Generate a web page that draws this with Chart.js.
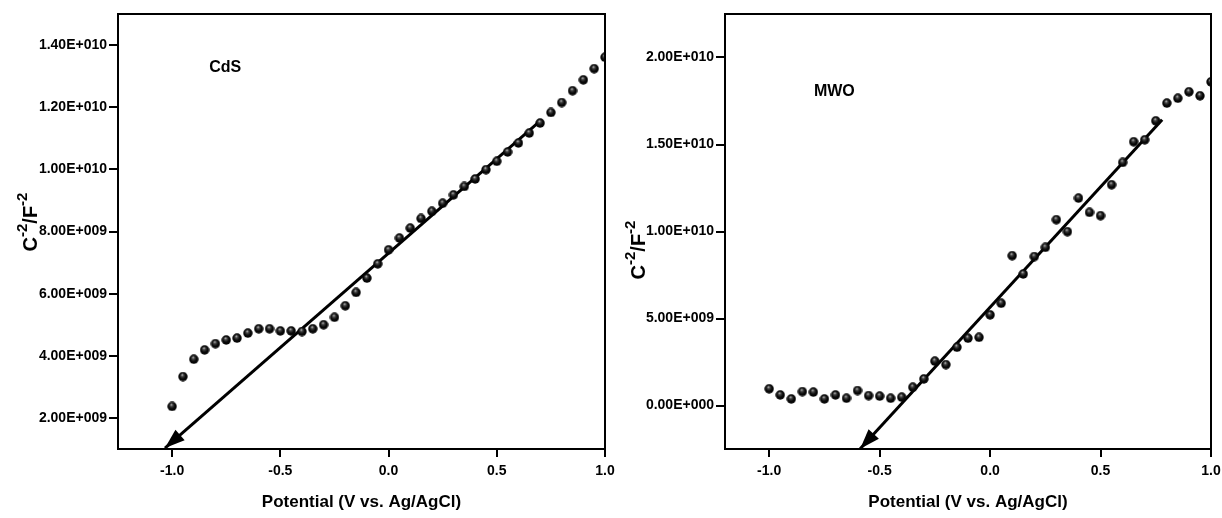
<!DOCTYPE html>
<html>
<head>
<meta charset="utf-8">
<script src="https://cdn.jsdelivr.net/npm/chart.js@4"></script>
<style>
  html, body { margin: 0; padding: 0; background: #fff; }
  #wrap { display: flex; width: 1222px; height: 518px; }
  canvas { display: block; }
</style>
</head>
<body>
<div id="wrap">
  <canvas id="cds-chart" width="616" height="518"></canvas>
  <canvas id="mwo-chart" width="606" height="518"></canvas>
</div>
<script>
// Mott-Schottky data (C^-2 / F^-2 vs potential)
const potential = [
  -1.00, -0.95, -0.90, -0.85, -0.80, -0.75, -0.70, -0.65, -0.60, -0.55,
  -0.50, -0.45, -0.40, -0.35, -0.30, -0.25, -0.20, -0.15, -0.10, -0.05,
   0.00,  0.05,  0.10,  0.15,  0.20,  0.25,  0.30,  0.35,  0.40,  0.45,
   0.50,  0.55,  0.60,  0.65,  0.70,  0.75,  0.80,  0.85,  0.90,  0.95, 1.00
];

const cdsValues = [
  2.37e9, 3.33e9, 3.89e9, 4.19e9, 4.39e9, 4.51e9, 4.57e9, 4.73e9, 4.87e9, 4.87e9,
  4.80e9, 4.80e9, 4.78e9, 4.87e9, 5.00e9, 5.24e9, 5.61e9, 6.04e9, 6.50e9, 6.96e9,
  7.41e9, 7.79e9, 8.11e9, 8.42e9, 8.65e9, 8.91e9, 9.18e9, 9.45e9, 9.69e9, 9.99e9,
  10.26e9, 10.56e9, 10.85e9, 11.17e9, 11.49e9, 11.83e9, 12.15e9, 12.53e9, 12.88e9, 13.24e9, 13.61e9
];

const mwoValues = [
  0.96e9, 0.61e9, 0.38e9, 0.80e9, 0.77e9, 0.38e9, 0.61e9, 0.42e9, 0.86e9, 0.57e9,
  0.54e9, 0.42e9, 0.48e9, 1.05e9, 1.53e9, 2.55e9, 2.35e9, 3.35e9, 3.87e9, 3.92e9,
  5.21e9, 5.88e9, 8.61e9, 7.56e9, 8.56e9, 9.09e9, 10.68e9, 9.99e9, 11.92e9, 11.10e9,
  10.91e9, 12.69e9, 13.97e9, 15.16e9, 15.27e9, 16.36e9, 17.38e9, 17.66e9, 18.03e9, 17.80e9, 18.60e9
];

// Linear fit lines (first point = arrow tip)
const cdsFitX = [-1.033, 0.689];
const cdsFitY = [1.03e9, 11.49e9];
const mwoFitX = [-0.588, 0.779];
const mwoFitY = [-2.49e9, 16.42e9];

// Axis ticks
const xTickValues = [-1.0, -0.5, 0.0, 0.5, 1.0];
const xTickLabels = ['-1.0', '-0.5', '0.0', '0.5', '1.0'];
const cdsYTickValues = [2e9, 4e9, 6e9, 8e9, 10e9, 12e9, 14e9];
const cdsYTickLabels = ['2.00E+009', '4.00E+009', '6.00E+009', '8.00E+009', '1.00E+010', '1.20E+010', '1.40E+010'];
const mwoYTickValues = [0, 5e9, 10e9, 15e9, 20e9];
const mwoYTickLabels = ['0.00E+000', '5.00E+009', '1.00E+010', '1.50E+010', '2.00E+010'];

const FONT = "'Liberation Sans', Arial, sans-serif";
const INK = '#000';

// Shaded black sphere used as point marker
function makeBall(d) {
  const c = document.createElement('canvas');
  c.width = d;
  c.height = d;
  const g = c.getContext('2d');
  const grad = g.createRadialGradient(d * 0.42, d * 0.3, 0, d / 2, d / 2, d / 2);
  grad.addColorStop(0, '#d0d0d0');
  grad.addColorStop(0.28, '#444');
  grad.addColorStop(0.6, '#0a0a0a');
  grad.addColorStop(1, '#000');
  g.fillStyle = grad;
  g.beginPath();
  g.arc(d / 2, d / 2, d / 2 - 0.3, 0, Math.PI * 2);
  g.fill();
  return c;
}
const ball = makeBall(10);

// Box around the plot area + arrow head on the fit line + in-plot label
const framePlugin = {
  id: 'frame',
  afterDatasetsDraw(chart) {
    const ctx = chart.ctx;
    const a = chart.chartArea;
    const opts = chart.options.plugins.frame;
    ctx.save();

    // arrow head at the low end of the fit line
    const line = chart.getDatasetMeta(1).data;
    const tip = line[0], tail = line[1];
    const ang = Math.atan2(tip.y - tail.y, tip.x - tail.x);
    const len = 20, half = 7;
    ctx.fillStyle = INK;
    ctx.beginPath();
    ctx.moveTo(tip.x, tip.y);
    ctx.lineTo(tip.x - len * Math.cos(ang) + half * Math.sin(ang),
               tip.y - len * Math.sin(ang) - half * Math.cos(ang));
    ctx.lineTo(tip.x - len * Math.cos(ang) - half * Math.sin(ang),
               tip.y - len * Math.sin(ang) + half * Math.cos(ang));
    ctx.closePath();
    ctx.fill();

    // frame
    ctx.strokeStyle = INK;
    ctx.lineWidth = 2;
    ctx.strokeRect(a.left, a.top, a.right - a.left, a.bottom - a.top);

    // sample label
    ctx.font = 'bold 16px ' + FONT;
    ctx.textAlign = 'center';
    ctx.textBaseline = 'middle';
    ctx.fillText(opts.label,
      chart.scales.x.getPixelForValue(opts.labelX),
      chart.scales.y.getPixelForValue(opts.labelY));

    // y title with superscripts: C^-2/F^-2
    const big = 'bold 20px ' + FONT, small = 'bold 15px ' + FONT;
    const parts = [['C', big, 0], ['-2', small, -8], ['/F', big, 0], ['-2', small, -8]];
    let total = 0;
    parts.forEach(p => { ctx.font = p[1]; total += ctx.measureText(p[0]).width; });
    ctx.translate(opts.titleX, opts.titleY);
    ctx.rotate(-Math.PI / 2);
    ctx.textAlign = 'left';
    ctx.textBaseline = 'middle';
    let x = -total / 2;
    parts.forEach(p => {
      ctx.font = p[1];
      ctx.fillText(p[0], x, p[2] + 6);
      x += ctx.measureText(p[0]).width;
    });
    ctx.restore();
  }
};

function makeChart(id, values, fitX, fitY, xMin, yMin, yMax, yTicks, yLabels, yWidth, frame) {
  const ctx = document.getElementById(id).getContext('2d');
  return new Chart(ctx, {
    type: 'scatter',
    data: {
      datasets: [
        {
          data: potential.map((p, i) => ({ x: p, y: values[i] })),
          pointStyle: ball,
          pointRadius: 5,
          clip: 0
        },
        {
          data: fitX.map((p, i) => ({ x: p, y: fitY[i] })),
          showLine: true,
          borderColor: INK,
          borderWidth: 3,
          pointRadius: 0,
          clip: false
        }
      ]
    },
    options: {
      responsive: false,
      animation: false,
      layout: { padding: { top: 14, right: 11, left: 0, bottom: 0 } },
      plugins: {
        legend: { display: false },
        tooltip: { enabled: false },
        frame: frame
      },
      scales: {
        x: {
          type: 'linear',
          min: xMin,
          max: 1.0,
          afterBuildTicks: s => { s.ticks = xTickValues.map(v => ({ value: v })); },
          afterFit: s => { s.height = 69; s.paddingLeft = 0; s.paddingRight = 0; },
          border: { display: false },
          grid: { drawOnChartArea: false, drawTicks: true, tickLength: 8, color: INK, lineWidth: 2 },
          ticks: {
            padding: 6,
            color: INK,
            font: { family: FONT, size: 14, weight: 'bold' },
            callback: (v, i) => xTickLabels[i]
          },
          title: {
            display: true,
            text: 'Potential (V vs. Ag/AgCl)',
            color: INK,
            font: { family: FONT, size: 17, weight: 'bold' },
            padding: { top: 0, bottom: 5 }
          }
        },
        y: {
          min: yMin,
          max: yMax,
          afterBuildTicks: s => { s.ticks = yTicks.map(v => ({ value: v })); },
          afterFit: s => { s.width = yWidth; s.paddingTop = 0; s.paddingBottom = 0; },
          border: { display: false },
          grid: { drawOnChartArea: false, drawTicks: true, tickLength: 9, color: INK, lineWidth: 2 },
          ticks: {
            padding: 2,
            color: INK,
            font: { family: FONT, size: 14, weight: 'bold' },
            callback: (v, i) => yLabels[i]
          }
        }
      }
    },
    plugins: [framePlugin]
  });
}

makeChart('cds-chart', cdsValues, cdsFitX, cdsFitY, -1.25, 1e9, 15e9,
  cdsYTickValues, cdsYTickLabels, 118,
  { label: 'CdS', labelX: -0.755, labelY: 13.29e9, titleX: 25, titleY: 222 });

makeChart('mwo-chart', mwoValues, mwoFitX, mwoFitY, -1.2, -2.5e9, 22.5e9,
  mwoYTickValues, mwoYTickLabels, 109,
  { label: 'MWO', labelX: -0.705, labelY: 18.05e9, titleX: 17, titleY: 250 });
</script>
</body>
</html>
